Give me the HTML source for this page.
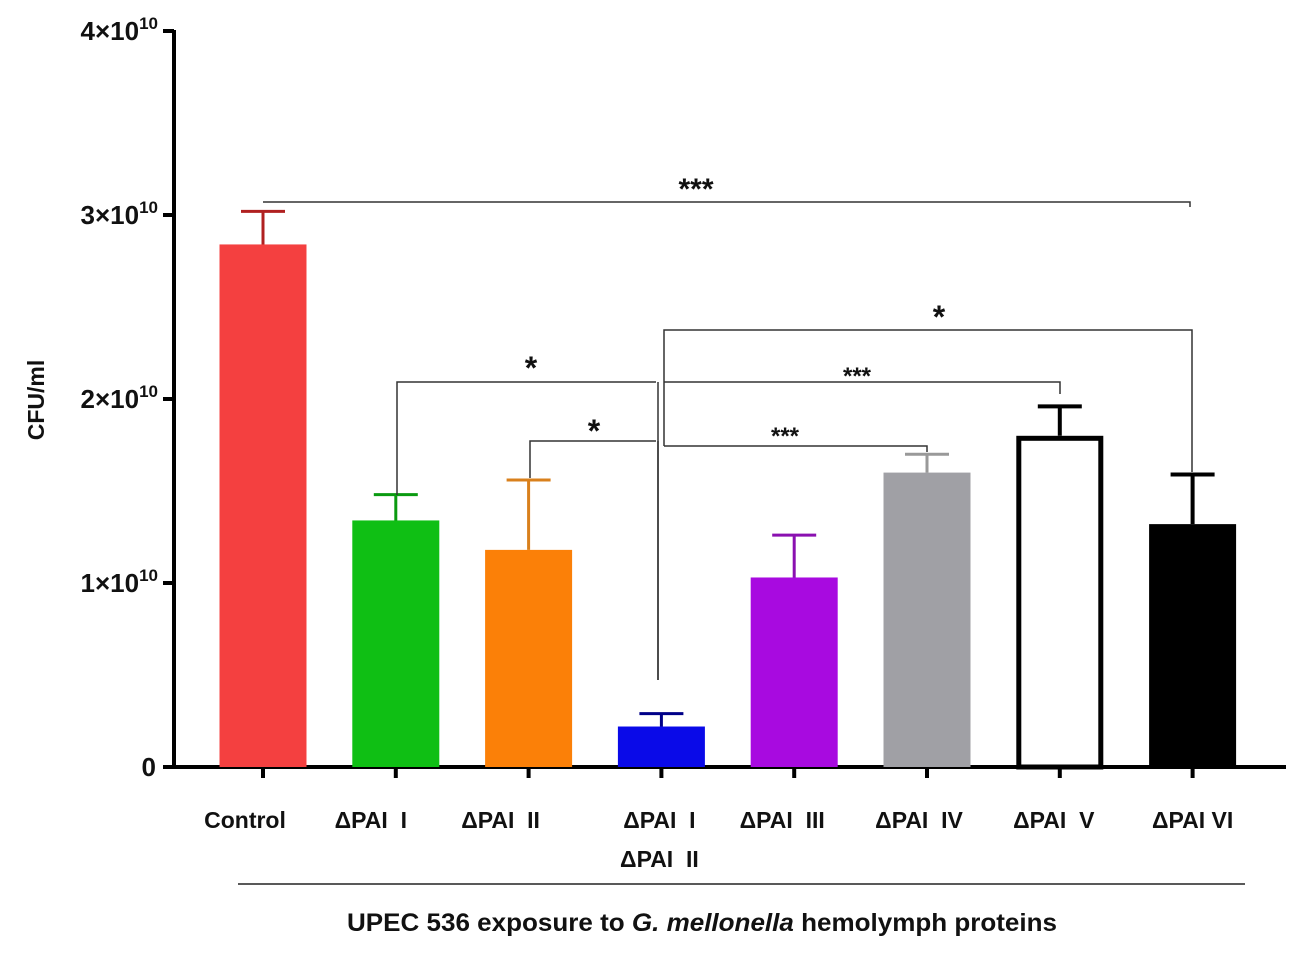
<!DOCTYPE html>
<html><head><meta charset="utf-8"><style>
html,body{margin:0;padding:0;background:#fff}
svg{display:block}
text{font-family:"Liberation Sans",Arial,sans-serif;font-weight:bold;fill:#111}
</style></head><body>
<svg id="chart" width="1299" height="965" viewBox="0 0 1299 965" xmlns="http://www.w3.org/2000/svg">
<g id="axes"></g><g id="bars"></g><g id="sig"></g>
<text x="44" y="400" font-size="23" transform="rotate(-90 44 400)" text-anchor="middle">CFU/ml</text>
<line x1="238" y1="884" x2="1245" y2="884" stroke="#222" stroke-width="1.5"/>
<text x="702" y="931" font-size="25" text-anchor="middle" textLength="710" lengthAdjust="spacingAndGlyphs">UPEC 536 exposure to <tspan font-style="italic">G. mellonella</tspan> hemolymph proteins</text>
</svg>
<script>
const categories = [["Control"],["ΔPAI\u00a0\u00a0I"],["ΔPAI\u00a0\u00a0II"],["ΔPAI\u00a0\u00a0I","ΔPAI\u00a0\u00a0II"],["ΔPAI\u00a0\u00a0III"],["ΔPAI\u00a0\u00a0IV"],["ΔPAI\u00a0\u00a0V"],["ΔPAI\u00a0VI"]];
const means = [2.84,1.34,1.18,0.22,1.03,1.60,1.80,1.32];
const errors = [0.18,0.14,0.38,0.07,0.23,0.10,0.16,0.27];
const colors = ["#f44040","#0fbf14","#fb8008","#0a0ae8","#a80ae0","#a0a0a5","#ffffff","#000000"];
const yTicks = [0,1,2,3,4];
const yTickLabels = ["0","1×10","2×10","3×10","4×10"];
const NS="http://www.w3.org/2000/svg";
const x0=174, y0=767, pxPerUnit=184, xStart=263, step=132.8, barW=87;
const labelOffsets=[-18,-25,-28,-2,-12,-8,-6,0];
const y=v=>y0-v*pxPerUnit;
const xc=i=>xStart+i*step;
function mk(tag,attrs,parent){const e=document.createElementNS(NS,tag);for(const k in attrs)e.setAttribute(k,attrs[k]);parent.appendChild(e);return e;}
const axes=document.getElementById('axes'), bars=document.getElementById('bars'), sig=document.getElementById('sig');
let ya=mk('line',{x1:x0,y1:y(4)-1,x2:x0,y2:y0+2,stroke:'#000','stroke-width':4},axes);


let xa=mk('line',{x1:x0-2,y1:y0,x2:1286,y2:y0,stroke:'#000','stroke-width':4},axes);


yTicks.forEach((t,i)=>{
  let tk=mk('line',{x1:x0-11,y1:y(t),x2:x0,y2:y(t),stroke:'#000','stroke-width':4},axes);
  
  
  let tx=mk('text',{x:t===0?156:158,y:y(t)+9,'font-size':26,'text-anchor':'end'},axes);
  
  
  tx.textContent=yTickLabels[i];
  if(t!==0){let s=mk('tspan',{dy:-11,'font-size':17},tx);s.textContent='10';}
});
categories.forEach((c,i)=>{
  const cx=xc(i), col=colors[i];
  const outline = i===6;
  const ecol = i===0?'#b02020':i===1?'#0a9a10':i===2?'#d9801c':i===3?'#000088':i===4?'#8a10b0':i===5?'#999':'#000';
  let er=mk('path',{d:`M${cx} ${y(means[i])} V${y(means[i]+errors[i])} M${cx-22} ${y(means[i]+errors[i])} H${cx+22}`,stroke:ecol,'stroke-width':outline||i===7?4:3,fill:'none'},bars);
  
  
  let r=mk('rect',outline?{x:cx-barW/2+2.5,y:y(means[i])+2.5,width:barW-5,height:y0-y(means[i])-2.5,fill:'#fff',stroke:'#000','stroke-width':5}:{x:cx-barW/2,y:y(means[i]),width:barW,height:y0-y(means[i]),fill:col},bars);
  
  
  let tk=mk('line',{x1:cx,y1:y0,x2:cx,y2:y0+11,stroke:'#000','stroke-width':4},axes);
  
  
  c.forEach((line,j)=>{
    let t=mk('text',{x:cx+labelOffsets[i],y:828+j*39,'font-size':23,'text-anchor':'middle'},axes);
    
    
    t.textContent=line;
  });
});
const sigPaths=[
 ["M263 202 H1190 V207",696,199,"***",30],
 ["M397 495 V382 H656",531,379,"*",32],
 ["M530 478 V441 H656",594,442,"*",32],
 ["M658 382 V680",0,0,"",0],
 ["M658 441 V680",0,0,"",0],
 ["M664 446 V330 H1192 V472",939,328,"*",32],
 ["M664 382 H1060 V394",857,384,"***",24],
 ["M664 446 H927 V452",785,444,"***",24]
];
sigPaths.forEach(s=>{
  let p=mk('path',{d:s[0],stroke:'#333','stroke-width':1.5,fill:'none'},sig);
  
  
  if(s[3]){let t=mk('text',{x:s[1],y:s[2],'font-size':s[4],'text-anchor':'middle'},sig);
  
  
  t.textContent=s[3];}
});
</script>
</body></html>
